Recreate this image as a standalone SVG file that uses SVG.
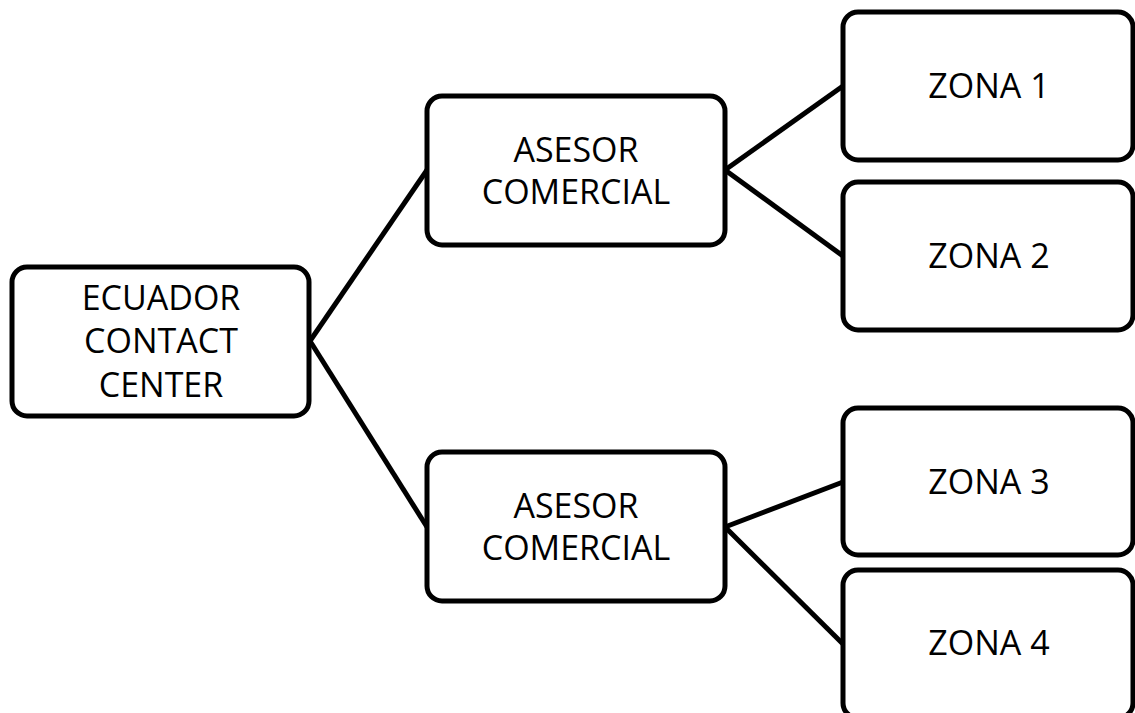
<svg xmlns="http://www.w3.org/2000/svg" width="1135" height="713" viewBox="0 0 1135 713">
<style>
.box{fill:#fff;stroke:#000;stroke-width:5}
.lbl{font-family:"Open Sans","Liberation Sans",sans-serif;font-size:34px;fill:#000;text-anchor:middle}
.con{stroke:#000;stroke-width:5;fill:none}
</style>
<rect width="1135" height="713" fill="#fff"/>
<g id="connectors">
<line class="con" x1="310" y1="341" x2="427" y2="170"/>
<line class="con" x1="310" y1="341" x2="427" y2="527"/>
<line class="con" x1="725" y1="170" x2="843" y2="86"/>
<line class="con" x1="725" y1="170" x2="843" y2="256"/>
<line class="con" x1="725" y1="527" x2="843" y2="482"/>
<line class="con" x1="725" y1="527" x2="843" y2="644"/>
</g>
<g id="root">
<rect class="box" x="12" y="267" width="297" height="149" rx="15"/>
<text class="lbl" x="161" y="310">ECUADOR</text>
<text class="lbl" x="161" y="353">CONTACT</text>
<text class="lbl" x="161" y="397">CENTER</text>
</g>
<g id="asesor1">
<rect class="box" x="427" y="96" width="298" height="149" rx="15"/>
<text class="lbl" x="576" y="162">ASESOR</text>
<text class="lbl" x="576" y="204">COMERCIAL</text>
</g>
<g id="asesor2">
<rect class="box" x="427" y="452" width="298" height="149" rx="15"/>
<text class="lbl" x="576" y="518">ASESOR</text>
<text class="lbl" x="576" y="560">COMERCIAL</text>
</g>
<g id="zona1">
<rect class="box" x="843" y="12" width="290" height="148" rx="15"/>
<text class="lbl" x="989" y="98">ZONA 1</text>
</g>
<g id="zona2">
<rect class="box" x="843" y="182" width="290" height="148" rx="15"/>
<text class="lbl" x="989" y="268">ZONA 2</text>
</g>
<g id="zona3">
<rect class="box" x="843" y="408" width="290" height="147" rx="15"/>
<text class="lbl" x="989" y="494">ZONA 3</text>
</g>
<g id="zona4">
<rect class="box" x="843" y="570" width="290" height="148" rx="15"/>
<text class="lbl" x="989" y="655">ZONA 4</text>
</g>
</svg>
